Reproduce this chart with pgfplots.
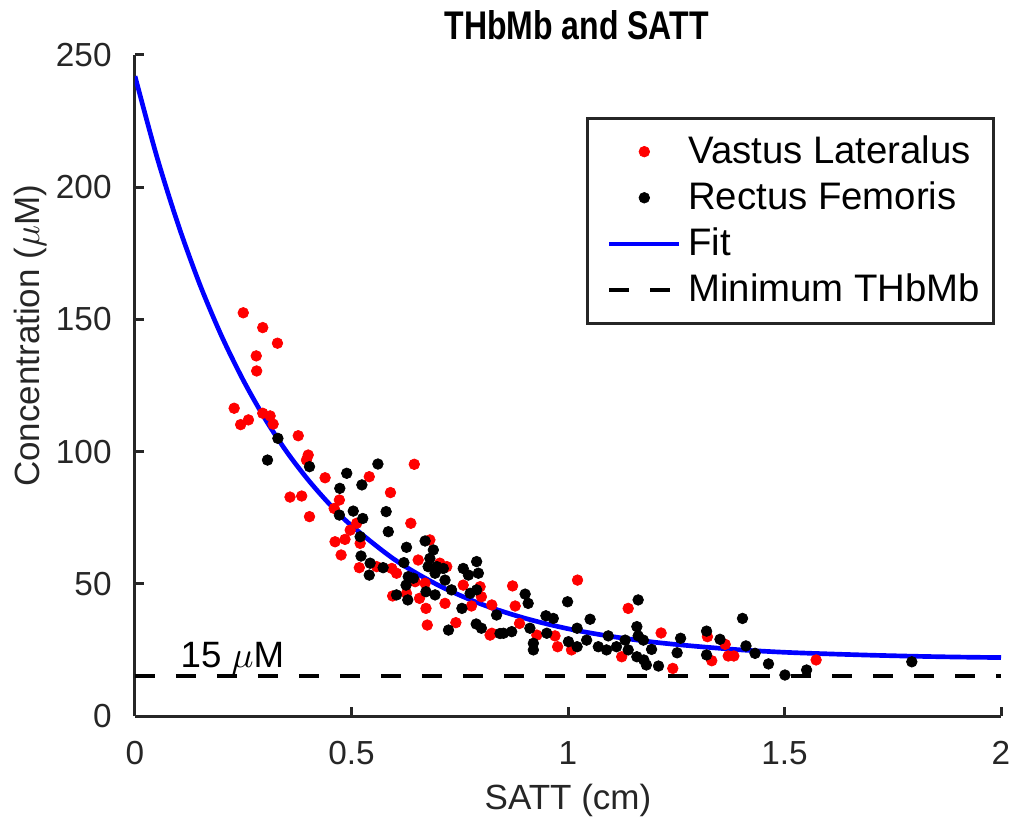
\documentclass[border=0pt]{standalone}
\usepackage{fontspec}
\setmainfont{Liberation Sans}
\usepackage{graphicx}
\usepackage{pgfplots}
\pgfplotsset{compat=1.18}

\begin{document}
\begin{tikzpicture}
\begin{axis}[
  scale only axis, width=259.8pt, height=198.3pt,
  xmin=0, xmax=2, ymin=0, ymax=250,
  axis x line*=bottom, axis y line*=left,
  axis line style={line width=0.9pt, black!85},
  xtick={0,0.5,1,1.5,2}, ytick={0,50,100,150,200,250},
  tick align=inside, major tick length=2.6pt,
  tick style={line width=0.9pt, black!85},
  /pgf/number format/assume math mode=true,
  ticklabel style={font=\fontsize{10}{12}\selectfont, text=black!85},
  yticklabel style={xshift=-3.5pt},
  xticklabel style={yshift=-4pt},
  xlabel={SATT (cm)}, ylabel={Concentration ($\mu$M)},
  label style={font=\fontsize{10.5}{12.5}\selectfont, text=black!85},
  xlabel style={at={(axis description cs:0.5,-0.127)}, anchor=center},
  ylabel style={at={(axis description cs:-0.1212,0.575)}, anchor=center},
  title={\scalebox{0.8}[1]{THbMb and SATT}},
  every axis title shift=0pt,
  title style={font=\bfseries\fontsize{12}{14}\selectfont, at={(axis description cs:0.51,1.045)}, anchor=center},
  legend style={at={(axis description cs:0.993,0.906)}, anchor=north east,
    draw=black!85, line width=0.9pt, fill=white,
    font=\fontsize{11.5}{13}\selectfont, inner xsep=2pt, inner ysep=3pt,
    row sep=0pt, cells={anchor=west}},
  legend image code/.code={\path[draw=none,fill=none] (-4.4pt,0pt) coordinate (lgtmp); \draw[mark repeat=2,mark phase=2] plot coordinates {(0pt,0pt) (10.5pt,0pt) (21pt,0pt)};},
]
\coordinate (sw) at (rel axis cs:0,0);
\coordinate (ne) at (rel axis cs:1,1);

\addplot[only marks, mark=*, color=red, mark size=1.6pt, line width=0.2pt] coordinates {
(0.250,152.5) (0.295,146.9) (0.329,141.0) (0.280,136.2) (0.281,130.5)
(0.229,116.4) (0.244,110.2) (0.262,112.0) (0.295,114.5) (0.312,113.5)
(0.319,110.4) (0.377,106.0) (0.400,98.7) (0.396,96.8) (0.439,90.1)
(0.541,90.5) (0.645,95.2) (0.590,84.5) (0.358,82.8) (0.385,83.2)
(0.403,75.4) (0.472,81.7) (0.460,78.5) (0.637,72.9) (0.497,70.3)
(0.512,72.9) (0.462,65.9) (0.485,66.8) (0.520,65.3) (0.476,60.9)
(0.518,56.1) (0.558,56.5) (0.593,55.8) (0.604,54.0) (0.654,59.0)
(0.681,66.6) (0.704,57.8) (0.720,56.5) (0.647,50.8) (0.670,50.2)
(0.595,45.4) (0.627,46.4) (0.657,44.5) (0.672,40.7) (0.716,42.6)
(0.675,34.4) (0.741,35.3) (0.758,49.5) (0.797,48.9) (0.800,45.1)
(0.777,41.6) (0.820,30.6) (0.824,42.0) (0.872,49.2) (0.878,41.6)
(0.824,31.3) (0.888,35.0) (0.928,30.6) (0.970,30.3) (0.976,26.2)
(1.008,25.0) (1.022,51.4) (1.139,40.7) (1.124,22.4) (1.215,31.4)
(1.242,18.0) (1.322,30.0) (1.363,27.1) (1.370,22.7) (1.383,22.7)
(1.332,20.9) (1.573,21.2)
};
\addlegendentry{Vastus Lateralus}

\addplot[only marks, mark=*, color=black, mark size=1.6pt, line width=0.2pt] coordinates {
(0.330,105.0) (0.306,96.8) (0.403,94.3) (0.489,91.8) (0.524,87.4)
(0.473,86.1) (0.561,95.3) (0.580,77.3) (0.504,77.5) (0.526,74.7)
(0.585,69.7) (0.472,76.0) (0.520,67.8) (0.522,60.5) (0.543,57.8)
(0.541,53.3) (0.573,56.1) (0.627,63.8) (0.621,58.0) (0.670,66.2)
(0.689,62.8) (0.681,59.6) (0.677,56.5) (0.697,56.5) (0.712,55.8)
(0.693,54.0) (0.631,52.7) (0.643,52.1) (0.626,49.5) (0.604,45.8)
(0.630,43.9) (0.672,47.0) (0.693,45.8) (0.716,51.4) (0.731,47.7)
(0.758,55.8) (0.789,58.4) (0.793,54.0) (0.770,53.3) (0.789,47.7)
(0.774,46.4) (0.755,40.7) (0.724,32.5) (0.788,34.8) (0.800,33.2)
(0.835,38.2) (0.843,31.2) (0.908,42.6) (0.851,31.3) (0.870,31.9)
(0.912,33.2) (0.949,37.9) (0.966,36.9) (0.951,31.3) (0.920,27.5)
(0.920,25.0) (0.999,43.2) (1.051,36.6) (1.021,33.2) (1.001,28.1)
(1.021,26.2) (1.043,28.7) (1.070,26.2) (1.093,30.3) (1.089,25.0)
(1.112,26.2) (1.132,28.7) (1.159,33.8) (1.162,30.3) (1.174,28.7)
(1.139,25.0) (1.159,22.4) (1.175,21.2) (1.181,19.3) (1.193,25.2)
(1.209,18.9) (1.162,43.9) (0.901,46.1) (1.403,36.9) (1.260,29.4)
(1.320,32.1) (1.351,29.0) (1.411,26.5) (1.432,23.7) (1.463,19.7)
(1.501,15.5) (1.320,23.1) (1.252,23.9) (1.551,17.4) (1.794,20.5)
};
\addlegendentry{Rectus Femoris}

\addplot[color=blue, line width=1.4pt, smooth] coordinates {
(0,242.0) (0.05,211.8) (0.1,185.7) (0.15,163.1) (0.2,143.7) (0.25,127.0)
(0.3,112.5) (0.35,100.0) (0.4,89.3) (0.45,80.0) (0.5,72.0) (0.6,59.1)
(0.7,49.5) (0.8,42.3) (0.9,37.0) (1.0,33.0) (1.1,30.1) (1.2,27.9)
(1.3,26.3) (1.4,25.0) (1.5,24.1) (1.6,23.5) (1.7,23.0) (1.8,22.6)
(1.9,22.3) (2.0,22.1)
};
\addlegendentry{Fit}

\addplot[color=black, line width=1.2pt, dash pattern=on 6pt off 6.3pt] coordinates {(0,15) (2,15)};
\addlegendentry{Minimum THbMb}

\node[anchor=base west, inner sep=0pt, font=\fontsize{11}{13}\selectfont] at (axis cs:0.104,18.5) {15 $\mu$M};
\end{axis}
\pgfresetboundingbox
\path[use as bounding box] ([shift={(-40.5pt,-34.2pt)}]sw) rectangle ([shift={(4.5pt,16.5pt)}]ne);
\end{tikzpicture}
\end{document}
